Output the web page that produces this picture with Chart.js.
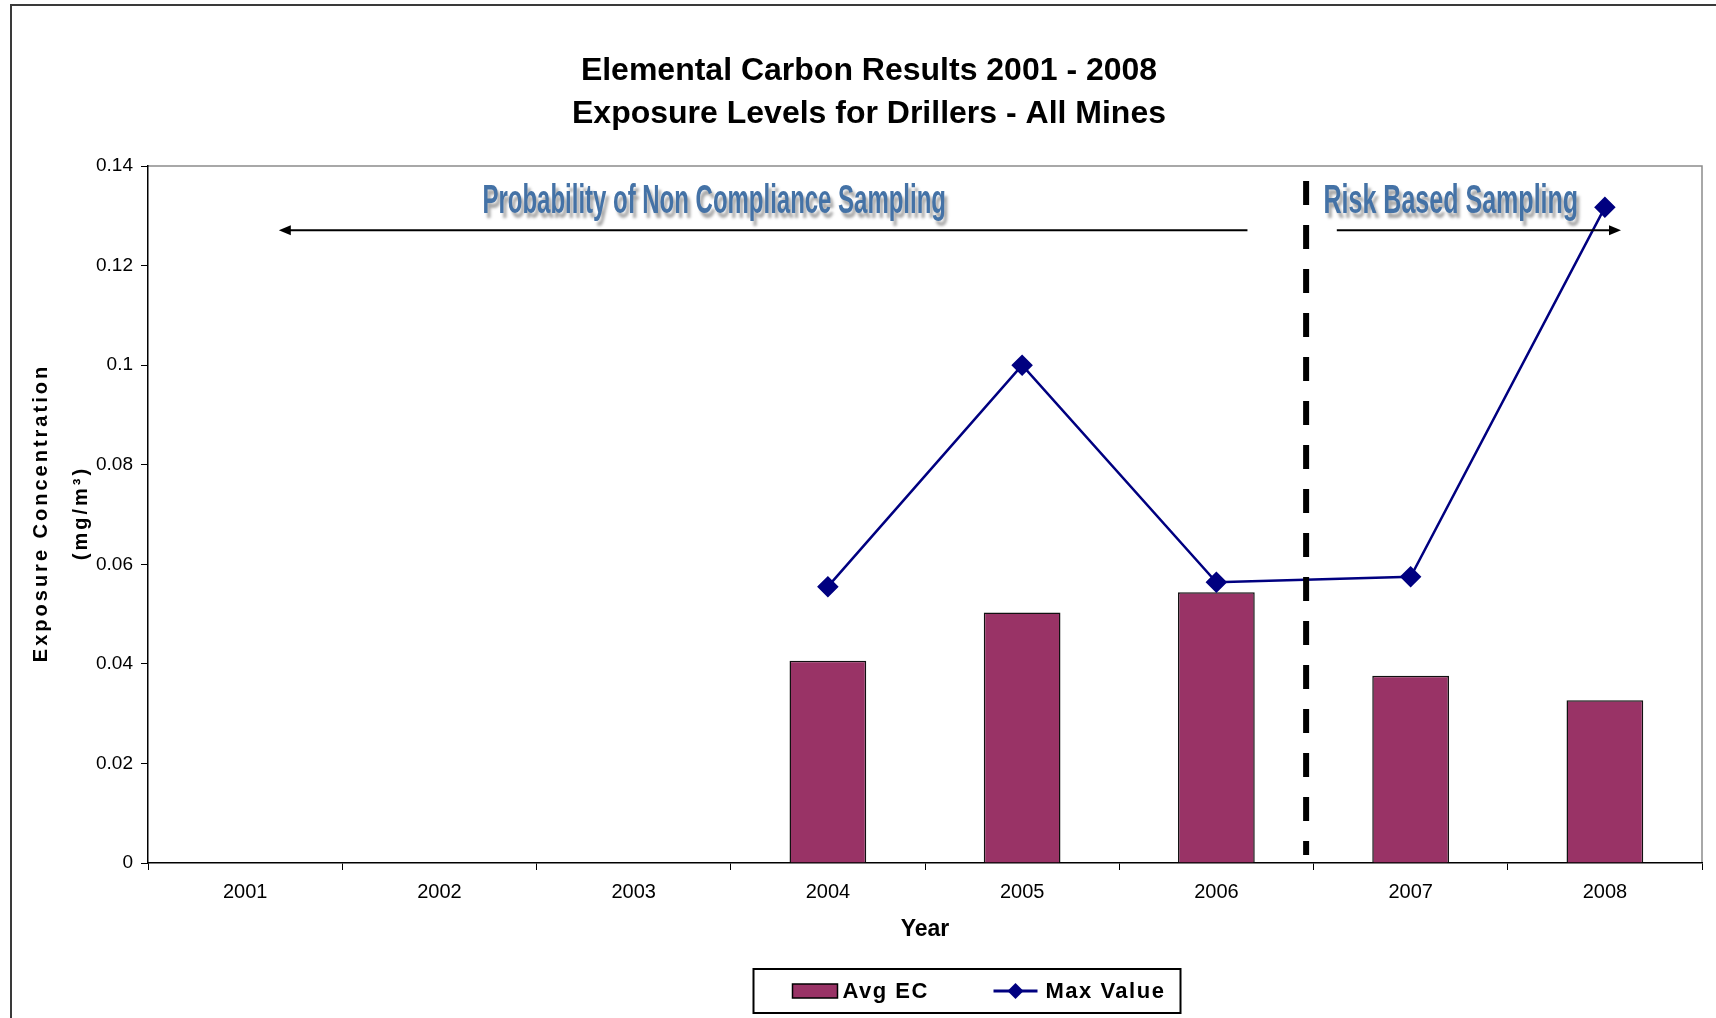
<!DOCTYPE html>
<html>
<head>
<meta charset="utf-8">
<title>Elemental Carbon Results 2001 - 2008</title>
<script src="https://cdn.jsdelivr.net/npm/chart.js@4.4.1/dist/chart.umd.min.js"></script>
<style>
  html, body { margin: 0; padding: 0; background: #fff; }
  #chart-wrap { width: 1716px; height: 1018px; }
</style>
</head>
<body>
<div id="chart-wrap"><canvas id="ec-chart" width="1716" height="1018"></canvas></div>
<script>
/* Elemental Carbon exposure chart - drillers, all mines */

// Chart data
const years = ['2001', '2002', '2003', '2004', '2005', '2006', '2007', '2008'];
const avgEC = [null, null, null, 0.0406, 0.0503, 0.0544, 0.0376, 0.0327];
const maxValue = [null, null, null, 0.0555, 0.1, 0.0564, 0.0575, 0.1317];
const yTickLabels = ['0', '0.02', '0.04', '0.06', '0.08', '0.1', '0.12', '0.14'];
const titleLines = ['Elemental Carbon Results 2001 - 2008', 'Exposure Levels for Drillers - All Mines'];
const yAxisTitle = ['Exposure Concentration', '(mg/m\u00B3)'];
const xAxisTitle = 'Year';
const seriesNames = ['Avg EC', 'Max Value'];
const phaseLabels = ['Probability of Non Compliance Sampling', 'Risk Based Sampling'];

const BAR_COLOR = '#993366';
const LINE_COLOR = '#000080';
const NOTE_COLOR = '#4472a6';
const FONT = '"Liberation Sans", Arial, sans-serif';

// category position (fractional index) -> pixel
function catX(chart, idx) {
  const x = chart.scales.x;
  const w = x.getPixelForValue(1) - x.getPixelForValue(0);
  return x.getPixelForValue(0) + idx * w;
}

function catWidth(chart) {
  const x = chart.scales.x;
  return x.getPixelForValue(1) - x.getPixelForValue(0);
}

// White background, outer frame and grey plot border
const framePlugin = {
  id: 'frame',
  beforeDraw(chart) {
    const ctx = chart.ctx;
    ctx.save();
    ctx.fillStyle = '#fff';
    ctx.fillRect(0, 0, chart.width, chart.height);
    ctx.strokeStyle = '#3a3a3a';
    ctx.lineWidth = 2;
    ctx.beginPath();
    ctx.moveTo(11, chart.height);
    ctx.lineTo(11, 5);
    ctx.lineTo(chart.width, 5);
    ctx.stroke();
    const a = chart.chartArea;
    ctx.strokeStyle = '#8c8c8c';
    ctx.lineWidth = 1.5;
    ctx.beginPath();
    ctx.moveTo(a.left, a.top);
    ctx.lineTo(a.right, a.top);
    ctx.lineTo(a.right, a.bottom);
    ctx.stroke();
    ctx.restore();
  }
};

// Chart title and the letter-spaced y axis title
const titlesPlugin = {
  id: 'titles',
  afterDraw(chart) {
    const ctx = chart.ctx;
    const a = chart.chartArea;
    ctx.save();
    ctx.fillStyle = '#000';
    ctx.textAlign = 'center';
    ctx.textBaseline = 'alphabetic';
    ctx.font = 'bold 32px ' + FONT;
    const cx = chart.width / 2 + 11;
    ctx.fillText(titleLines[0], cx, 80);
    ctx.fillText(titleLines[1], cx, 123);

    const midY = (a.top + a.bottom) / 2;
    ctx.font = 'bold 20px ' + FONT;
    ctx.letterSpacing = '3px';
    ctx.textBaseline = 'middle';
    ctx.translate(41, midY);
    ctx.rotate(-Math.PI / 2);
    ctx.fillText(yAxisTitle[0], 1.5, 0);
    ctx.fillText(yAxisTitle[1], 1.5, 40);
    ctx.restore();
  }
};

function drawArrow(ctx, x1, x2, y) {
  // arrow from x1 to x2, head at x2
  const dir = x2 > x1 ? 1 : -1;
  ctx.beginPath();
  ctx.moveTo(x1, y);
  ctx.lineTo(x2 - dir * 10, y);
  ctx.stroke();
  ctx.beginPath();
  ctx.moveTo(x2, y);
  ctx.lineTo(x2 - dir * 12, y - 5);
  ctx.lineTo(x2 - dir * 12, y + 5);
  ctx.closePath();
  ctx.fill();
}

function drawNote(ctx, text, cx, baseY, width) {
  ctx.save();
  ctx.font = 'bold 40px "Liberation Sans Narrow", "Liberation Sans", Arial, sans-serif';
  const natural = ctx.measureText(text).width;
  ctx.translate(cx, baseY);
  ctx.scale(width / natural, 1);
  ctx.textAlign = 'center';
  ctx.textBaseline = 'alphabetic';
  ctx.shadowColor = 'rgba(0, 0, 0, 0.35)';
  ctx.shadowOffsetX = 3;
  ctx.shadowOffsetY = 5;
  ctx.shadowBlur = 3;
  ctx.fillStyle = NOTE_COLOR;
  ctx.fillText(text, 0, 0);
  ctx.restore();
}

// Sampling phase divider, arrows and labels
const phasePlugin = {
  id: 'phases',
  afterDatasetsDraw(chart) {
    const ctx = chart.ctx;
    const y = chart.scales.y;
    const cw = catWidth(chart);
    ctx.save();

    // dashed divider between the two sampling regimes
    ctx.strokeStyle = '#000';
    ctx.lineWidth = 6;
    ctx.setLineDash([24, 20]);
    ctx.beginPath();
    ctx.moveTo(catX(chart, 5.462), y.getPixelForValue(0.137));
    ctx.lineTo(catX(chart, 5.462), y.getPixelForValue(0.0016));
    ctx.stroke();
    ctx.setLineDash([]);

    // arrows
    ctx.lineWidth = 2;
    ctx.fillStyle = '#000';
    const ay = y.getPixelForValue(0.1271);
    drawArrow(ctx, catX(chart, 5.16), catX(chart, 0.1735), ay);
    drawArrow(ctx, catX(chart, 5.62), catX(chart, 7.083), ay);

    // labels
    const by = y.getPixelForValue(0.1306);
    drawNote(ctx, phaseLabels[0], catX(chart, 2.415), by, 2.386 * cw);
    drawNote(ctx, phaseLabels[1], catX(chart, 6.207), by, 1.311 * cw);
    ctx.restore();
  }
};

// Excel-style boxed legend
const boxLegendPlugin = {
  id: 'boxLegend',
  afterDraw(chart) {
    const ctx = chart.ctx;
    const a = chart.chartArea;
    const cx = (a.left + a.right) / 2 + 42;
    const top = 969, h = 44, w = 427;
    const mid = top + h / 2;
    const left = cx - w / 2;
    ctx.save();
    ctx.strokeStyle = '#000';
    ctx.lineWidth = 2;
    ctx.strokeRect(left, top, w, h);

    // bar swatch
    ctx.fillStyle = BAR_COLOR;
    ctx.fillRect(left + 39, mid - 7, 45, 14);
    ctx.lineWidth = 1.5;
    ctx.strokeRect(left + 39, mid - 7, 45, 14);

    // line + diamond swatch
    ctx.strokeStyle = LINE_COLOR;
    ctx.lineWidth = 3;
    ctx.beginPath();
    ctx.moveTo(left + 240, mid);
    ctx.lineTo(left + 284, mid);
    ctx.stroke();
    ctx.fillStyle = LINE_COLOR;
    ctx.beginPath();
    ctx.moveTo(left + 262, mid - 8);
    ctx.lineTo(left + 270, mid);
    ctx.lineTo(left + 262, mid + 8);
    ctx.lineTo(left + 254, mid);
    ctx.closePath();
    ctx.fill();

    // labels
    ctx.fillStyle = '#000';
    ctx.font = 'bold 22px ' + FONT;
    ctx.letterSpacing = '1.5px';
    ctx.textAlign = 'left';
    ctx.textBaseline = 'middle';
    ctx.fillText(seriesNames[0], left + 89, mid + 1);
    ctx.fillText(seriesNames[1], left + 292, mid + 1);
    ctx.restore();
  }
};

function initChart() {
  const canvas = document.getElementById('ec-chart');
  if (!canvas) return;

  new Chart(canvas, {
    type: 'bar',
    data: {
      labels: years,
      datasets: [
        {
          type: 'line',
          label: seriesNames[1],
          data: maxValue,
          borderColor: LINE_COLOR,
          backgroundColor: LINE_COLOR,
          borderWidth: 2.5,
          pointStyle: 'rectRot',
          pointRadius: 9,
          pointHoverRadius: 9,
          tension: 0,
          order: 1
        },
        {
          type: 'bar',
          label: seriesNames[0],
          data: avgEC,
          backgroundColor: BAR_COLOR,
          borderColor: '#111',
          borderWidth: 1.5,
          barPercentage: 0.395,
          categoryPercentage: 1,
          order: 2
        }
      ]
    },
    options: {
      responsive: false,
      animation: false,
      devicePixelRatio: 1,
      layout: {
        padding: { left: 0, right: 14, top: 166, bottom: 50 }
      },
      plugins: {
        legend: { display: false },
        tooltip: { enabled: false },
        title: { display: false }
      },
      scales: {
        x: {
          offset: true,
          grid: {
            offset: true,
            drawOnChartArea: false,
            drawTicks: true,
            tickLength: 7,
            color: '#000'
          },
          border: { display: true, color: '#000', width: 1.5 },
          ticks: {
            color: '#000',
            padding: 10,
            maxRotation: 0,
            font: { family: FONT, size: 20 }
          },
          title: {
            display: true,
            text: xAxisTitle,
            color: '#000',
            font: { family: FONT, size: 23, weight: 'bold', lineHeight: 1.2 },
            padding: { top: 4, bottom: 25 }
          },
          afterFit(scale) { scale.height = 105; }
        },
        y: {
          min: 0,
          max: 0.14,
          ticks: {
            stepSize: 0.02,
            color: '#000',
            padding: 8,
            font: { family: FONT, size: 19 },
            callback: (value, index) => yTickLabels[index]
          },
          grid: {
            drawOnChartArea: false,
            drawTicks: true,
            tickLength: 7,
            color: '#000'
          },
          border: { display: true, color: '#000', width: 1.5 },
          title: { display: false },
          afterFit(scale) { scale.width = 148; }
        }
      }
    },
    plugins: [framePlugin, phasePlugin, titlesPlugin, boxLegendPlugin]
  });
}

document.addEventListener('DOMContentLoaded', () => {
  initChart();
});
</script>
</body>
</html>
